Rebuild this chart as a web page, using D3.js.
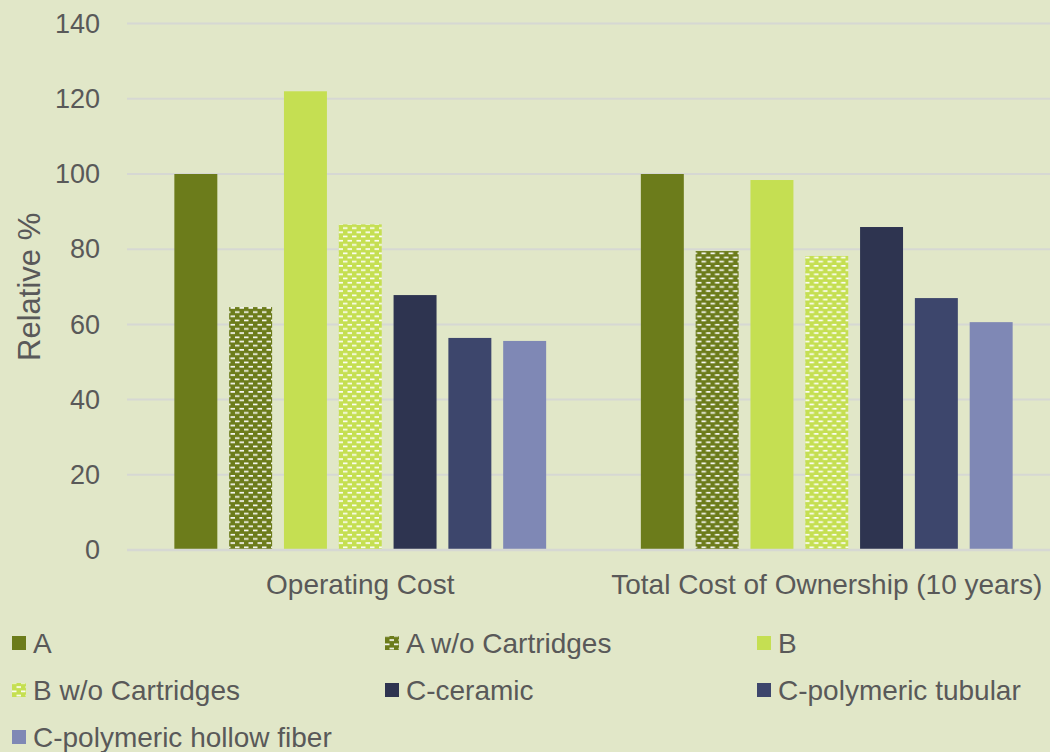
<!DOCTYPE html>
<html>
<head>
<meta charset="utf-8">
<script src="https://cdn.jsdelivr.net/npm/d3@7"></script>
<style>
  html, body { margin: 0; padding: 0; background: #E1E7C8; }
  svg { display: block; }
  text { font-family: "Liberation Sans", Arial, sans-serif; fill: #595959; }
</style>
</head>
<body>
<svg id="chart" width="1050" height="752"></svg>
<script>
// Cost categories and series
const categories = ["Operating Cost", "Total Cost of Ownership (10 years)"];
const seriesNames = ["A", "A w/o Cartridges", "B", "B w/o Cartridges", "C-ceramic", "C-polymeric tubular", "C-polymeric hollow fiber"];
// Relative % per series, one value per category
const valuesA = [100, 100];
const valuesAwo = [64.6, 79.5];
const valuesB = [122, 98.4];
const valuesBwo = [86.6, 78.2];
const valuesCceramic = [67.8, 85.9];
const valuesCtubular = [56.4, 67.0];
const valuesChollow = [55.6, 60.6];
const yTicks = [0, 20, 40, 60, 80, 100, 120, 140];

const seriesValues = [valuesA, valuesAwo, valuesB, valuesBwo, valuesCceramic, valuesCtubular, valuesChollow];
const seriesStyle = [
  { color: "#6C7C1B", pattern: false },
  { color: "#6C7C1B", pattern: true },
  { color: "#C5DF52", pattern: false },
  { color: "#C5DF52", pattern: true },
  { color: "#2E3450", pattern: false },
  { color: "#3D466C", pattern: false },
  { color: "#7F88B5", pattern: false }
];

const svg = d3.select("#chart");
const defs = svg.append("defs");

// Dashed-horizontal hatch fills for the "w/o Cartridges" series
function makePattern(id, base) {
  const p = defs.append("pattern")
    .attr("id", id)
    .attr("patternUnits", "userSpaceOnUse")
    .attr("width", 9).attr("height", 8.4);
  p.append("rect").attr("width", 9).attr("height", 8.4).attr("fill", base);
  p.append("rect").attr("x", 0).attr("y", 0.5).attr("width", 4.5).attr("height", 1.6).attr("fill", "#ffffff");
  p.append("rect").attr("x", 4.5).attr("y", 4.7).attr("width", 4.5).attr("height", 1.6).attr("fill", "#ffffff");
}
seriesStyle.forEach((s, i) => {
  if (s.pattern) makePattern("pat" + i, s.color);
});
const fillFor = i => seriesStyle[i].pattern ? `url(#pat${i})` : seriesStyle[i].color;

const plotLeft = 127, plotRight = 1060, plotTop = 23.6, plotBottom = 550;

const x0 = d3.scaleBand().domain(categories).range([plotLeft, plotRight]).padding(0);
const x1 = d3.scaleBand().domain(seriesNames).range([0, x0.bandwidth()])
  .paddingInner(0.216).paddingOuter(0.864);
const y = d3.scaleLinear().domain([0, 140]).range([plotBottom, plotTop]);

// Gridlines
svg.append("g").selectAll("line").data(yTicks).join("line")
  .attr("x1", plotLeft).attr("x2", plotRight)
  .attr("y1", d => y(d)).attr("y2", d => y(d))
  .attr("stroke", "#D6D8D3").attr("stroke-width", 2);

// Y axis tick labels
const yAxis = d3.axisLeft(y).tickValues(yTicks).tickSize(0).tickPadding(0);
const gy = svg.append("g").attr("transform", `translate(100,0)`).call(yAxis);
gy.select(".domain").remove();
gy.selectAll("text").attr("font-size", 27).style("font-family", "Liberation Sans, Arial, sans-serif").attr("fill", "#595959");

// Bars
const groups = svg.append("g").selectAll("g").data(categories).join("g")
  .attr("transform", c => `translate(${x0(c)},0)`);
groups.selectAll("rect")
  .data((c, ci) => seriesNames.map((s, si) => ({ s, si, v: seriesValues[si][ci] })))
  .join("rect")
  .attr("x", d => x1(d.s))
  .attr("width", x1.bandwidth())
  .attr("y", d => y(d.v))
  .attr("height", d => y(0) - y(d.v))
  .attr("fill", d => fillFor(d.si));

// Baseline
svg.append("line").attr("x1", plotLeft).attr("x2", plotRight)
  .attr("y1", y(0)).attr("y2", y(0))
  .attr("stroke", "#D6D8D3").attr("stroke-width", 2.5);

// Category axis labels
const xAxis = d3.axisBottom(x0).tickSize(0).tickPadding(0);
const gx = svg.append("g").attr("transform", `translate(0,${plotBottom + 24})`).call(xAxis);
gx.select(".domain").remove();
gx.selectAll("text").attr("font-size", 28).style("font-family", "Liberation Sans, Arial, sans-serif").attr("fill", "#595959");

// Y axis title
svg.append("text")
  .attr("transform", `translate(40,${(plotTop + plotBottom) / 2}) rotate(-90)`)
  .attr("text-anchor", "middle")
  .attr("font-size", 31)
  .text("Relative %");

// Legend, three columns
const legendCols = [12, 385, 757];
const legendRows = [643, 690, 737];
const legend = svg.append("g").selectAll("g").data(seriesNames).join("g")
  .attr("transform", (d, i) => `translate(${legendCols[i % 3]},${legendRows[Math.floor(i / 3)]})`);
legend.append("rect")
  .attr("x", 0).attr("y", -7).attr("width", 14).attr("height", 14)
  .attr("fill", (d, i) => fillFor(i));
legend.append("text")
  .attr("x", 21).attr("y", 0).attr("dy", "0.35em")
  .attr("font-size", 28)
  .text(d => d);
</script>
</body>
</html>
